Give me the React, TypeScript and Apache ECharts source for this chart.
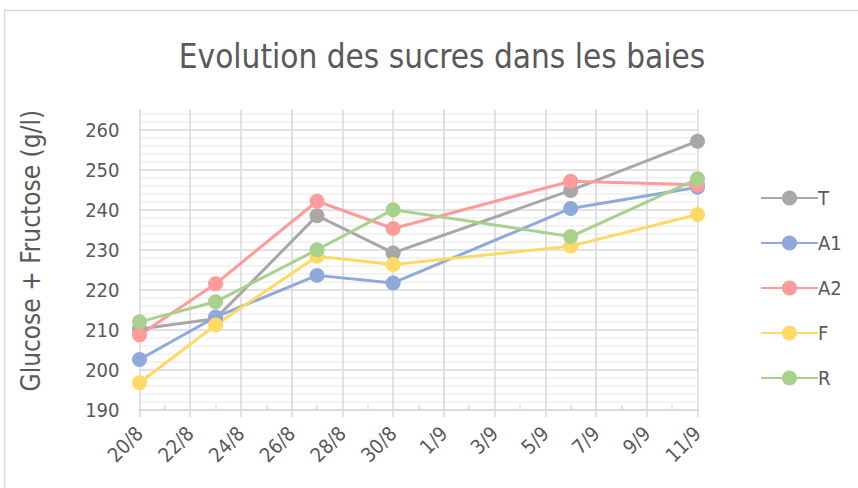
import React, { useEffect, useRef } from "react";
import * as echarts from "echarts";

const startDate = "2023-08-20";
const endDate = "2023-09-11";
const sampleDates = ["2023-08-20", "2023-08-23", "2023-08-27", "2023-08-30", "2023-09-06", "2023-09-11"];
const seriesNames = ["T", "A1", "A2", "F", "R"];
const valuesT = [210.2, 212.8, 238.5, 229.2, 244.8, 257.1];
const valuesA1 = [202.6, 213.2, 223.6, 221.7, 240.3, 245.6];
const valuesA2 = [208.7, 221.5, 242.1, 235.3, 247.1, 246.2];
const valuesF = [196.8, 211.2, 228.4, 226.3, 230.9, 238.8];
const valuesR = [212.0, 217.0, 230.0, 240.0, 233.3, 247.7];
const seriesColors = ["#A9A7A7", "#8EAADC", "#FF9B9B", "#FFD966", "#A9D18E"];
const yMin = 190;
const yMax = 265;
const yMajor = 10;
const yMinor = 2;

const DAY = 86400000;
const t0 = Date.parse(startDate);
const dayOffset = (d: string) => Math.round((Date.parse(d) - t0) / DAY);
const xMax = dayOffset(endDate);
const FONT = "'Liberation Sans Narrow', 'DejaVu Sans Condensed', sans-serif";
const TXT = "#595959";

export default function App() {
  const ref = useRef<HTMLDivElement>(null);
  useEffect(() => {
    if (!ref.current) return;
    const chart = echarts.init(ref.current, null, { renderer: "svg" });
    const allValues = [valuesT, valuesA1, valuesA2, valuesF, valuesR];
    const minorColor = "#EFEFEF";
    const majorColor = "#D9D9D9";
    const cyc = yMajor / yMinor;
    const splitColors = [majorColor];
    for (let i = 1; i < cyc; i++) splitColors.push(minorColor);
    chart.setOption({
      animation: false,
      textStyle: { fontFamily: FONT },
      title: {
        text: "Evolution des sucres dans les baies",
        left: 437,
        top: 35,
        textAlign: "center",
        textStyle: { fontFamily: FONT, fontSize: 33, fontWeight: "normal", color: TXT },
      },
      graphic: [
        {
          type: "rect",
          shape: { x: 4.5, y: 10.5, width: 900, height: 600 },
          style: { fill: "none", stroke: "#D9D9D9", lineWidth: 1.5 },
          silent: true,
        },
      ],
      grid: { left: 139.5, right: 160.5, top: 109.5, bottom: 78 },
      legend: {
        orient: "vertical",
        left: 755,
        top: 183,
        itemWidth: 57,
        itemHeight: 19,
        itemGap: 25,
        data: seriesNames,
        textStyle: { fontFamily: FONT, fontSize: 20, color: TXT, padding: [0, 0, 0, -5] },
      },
      xAxis: {
        type: "value",
        min: 0,
        max: xMax,
        interval: 2,
        axisLine: { show: true, lineStyle: { color: majorColor, width: 1.5 } },
        axisTick: { show: true, length: 7, lineStyle: { color: majorColor, width: 1.5 } },
        minorTick: { show: true, splitNumber: 2, length: -5, lineStyle: { color: majorColor, width: 1.5 } },
        splitLine: { show: true, lineStyle: { color: majorColor, width: 1.5 } },
        axisLabel: {
          rotate: 45,
          margin: 20,
          fontSize: 20,
          color: TXT,
          fontFamily: FONT,
          formatter: (v: number) => {
            const d = new Date(t0 + v * DAY);
            return `${d.getUTCDate()}/${d.getUTCMonth() + 1}`;
          },
        },
      },
      yAxis: {
        type: "value",
        min: yMin,
        max: yMax,
        interval: yMinor,
        name: "Glucose + Fructose (g/l)",
        nameLocation: "middle",
        nameGap: 96,
        nameTextStyle: { fontFamily: FONT, fontSize: 26, color: TXT, padding: [0, 0, 0, 18] },
        axisLine: { show: false },
        axisTick: { show: false },
        splitLine: { show: true, showMaxLine: false, lineStyle: { color: splitColors, width: 1.5 } },
        axisLabel: {
          margin: 20,
          fontSize: 20,
          color: TXT,
          fontFamily: FONT,
          formatter: (v: number) => (v % yMajor === 0 ? String(v) : ""),
        },
      },
      series: seriesNames.map((name, i) => ({
        name,
        type: "line",
        symbol: "circle",
        symbolSize: 15,
        showSymbol: true,
        color: seriesColors[i],
        lineStyle: { width: 3, color: seriesColors[i] },
        itemStyle: { color: seriesColors[i] },
        data: sampleDates.map((d, j) => [dayOffset(d), allValues[i][j]]),
      })),
    });
    return () => chart.dispose();
  }, []);
  return <div ref={ref} style={{ position: "absolute", left: 0, top: 0, width: 858, height: 488 }} />;
}
